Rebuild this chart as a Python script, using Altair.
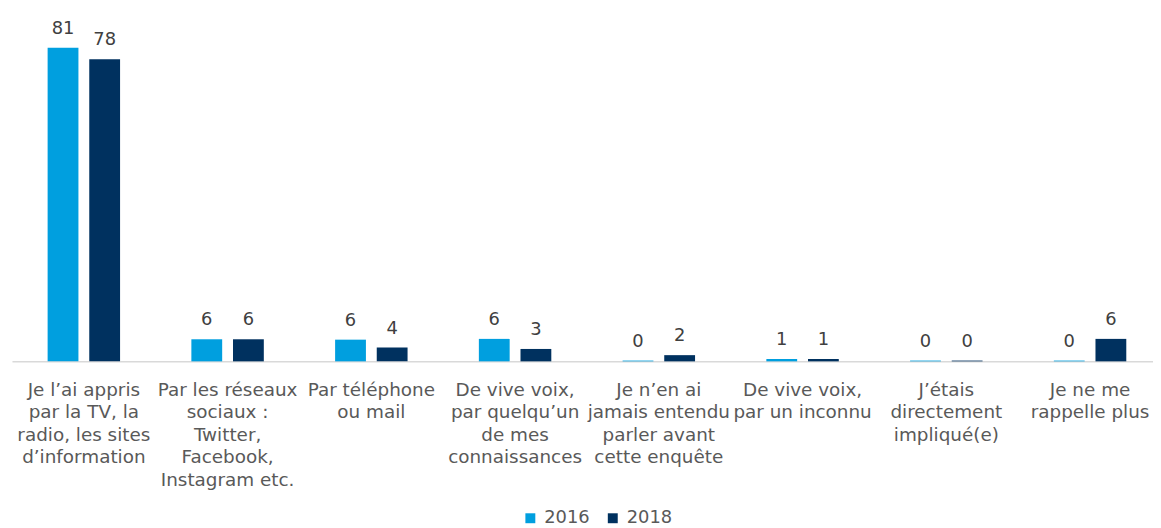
import altair as alt
import pandas as pd

categories = [
    "Je l’ai appris|par la TV, la|radio, les sites|d’information",
    "Par les réseaux|sociaux :|Twitter,|Facebook,|Instagram etc.",
    "Par téléphone|ou mail",
    "De vive voix,|par quelqu’un|de mes|connaissances",
    "Je n’en ai|jamais entendu|parler avant|cette enquête",
    "De vive voix,|par un inconnu",
    "J’étais|directement|impliqué(e)",
    "Je ne me|rappelle plus",
]
years = ["2016", "2018"]
values_2016 = [81, 5.7, 5.6, 5.8, 0.2, 0.6, 0.2, 0.2]
values_2018 = [78, 5.7, 3.6, 3.2, 1.6, 0.6, 0.2, 5.8]
colors = ["#009fdf", "#00315f"]

rows = []
for c, a, b in zip(categories, values_2016, values_2018):
    rows.append({"cat": c, "year": "2016", "value": a})
    rows.append({"cat": c, "year": "2018", "value": b})
df = pd.DataFrame(rows)

FONT = "DejaVu Sans"

x_enc = alt.X(
    "cat:N",
    sort=categories,
    scale=alt.Scale(range=[0, 1158], paddingInner=0.496, paddingOuter=0.248),
    axis=alt.Axis(
        title=None,
        labelAngle=0,
        labelExpr="split(datum.label, '|')",
        labelFont=FONT,
        labelFontSize=18.5,
        labelColor="#595959",
        labelLineHeight=22.7,
        labelLimit=0,
        labelPadding=19,
        labelBaseline="top",
        ticks=False,
        grid=False,
        domainColor="#d9d9d9",
        domainWidth=1.5,
    ),
)
xoff = alt.XOffset("year:N", sort=years, scale=alt.Scale(paddingInner=0.26))
y_enc = alt.Y("value:Q", scale=alt.Scale(domain=[0, 90]), axis=None)

bars = alt.Chart(df).mark_bar().encode(
    x=x_enc,
    xOffset=xoff,
    y=y_enc,
    color=alt.Color(
        "year:N",
        sort=years,
        scale=alt.Scale(domain=years, range=colors),
        legend=alt.Legend(
            title=None,
            orient="none",
            direction="horizontal",
            legendX=513,
            legendY=500,
            symbolType="square",
            symbolSize=100,
            symbolStrokeWidth=0,
            labelFont=FONT,
            labelFontSize=18,
            labelColor="#595959",
            labelOffset=5,
            columnPadding=14,
        ),
    ),
)

labels = alt.Chart(df).mark_text(
    dy=-14, baseline="alphabetic", font=FONT, fontSize=18, color="#404040"
).encode(
    x=x_enc,
    xOffset=xoff,
    y=y_enc,
    text=alt.Text("value:Q", format=".0f"),
)

chart = (
    alt.layer(bars, labels)
    .properties(
        width=1149,
        height=351,
        autosize=alt.AutoSizeParams(type="none"),
        padding={"left": 4, "top": 3, "right": 0, "bottom": 166},
    )
    .configure_view(stroke=None)
)

chart.save("out.html", embed_options={"renderer": "svg", "actions": False})
